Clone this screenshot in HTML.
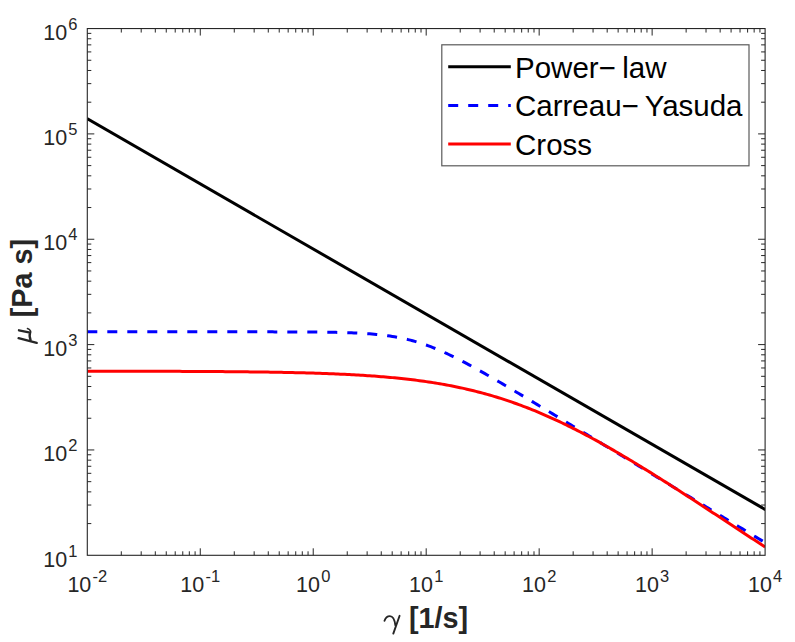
<!DOCTYPE html>
<html><head><meta charset="utf-8"><style>
html,body{margin:0;padding:0;background:#fff;}
svg{display:block;}
text{font-family:"Liberation Sans",sans-serif;fill:#262626;}
.tl{font-size:21.5px;}
.sup{font-size:16.5px;}
.lg{font-size:29.5px;fill:#000;}
.lab{font-size:28.8px;font-weight:bold;}
</style></head><body>
<svg width="795" height="642" viewBox="0 0 795 642">
<rect width="795" height="642" fill="#fff"/>
<defs><clipPath id="c"><rect x="87.3" y="28.55" width="677.80" height="526.75"/></clipPath></defs>
<g clip-path="url(#c)" fill="none" stroke-width="3" stroke-linejoin="round">
<path d="M87,118.6 L765.5,509.7" stroke="#000"/>
<path d="M87.30,331.83 L89.56,331.83 L91.82,331.83 L94.08,331.83 L96.34,331.83 L98.60,331.83 L100.86,331.83 L103.12,331.83 L105.37,331.83 L107.63,331.83 L109.89,331.83 L112.15,331.83 L114.41,331.83 L116.67,331.83 L118.93,331.83 L121.19,331.83 L123.45,331.83 L125.71,331.83 L127.97,331.83 L130.23,331.83 L132.49,331.83 L134.75,331.83 L137.01,331.83 L139.26,331.83 L141.52,331.83 L143.78,331.83 L146.04,331.83 L148.30,331.83 L150.56,331.83 L152.82,331.83 L155.08,331.83 L157.34,331.83 L159.60,331.83 L161.86,331.83 L164.12,331.83 L166.38,331.83 L168.64,331.83 L170.90,331.83 L173.15,331.83 L175.41,331.83 L177.67,331.83 L179.93,331.83 L182.19,331.83 L184.45,331.83 L186.71,331.83 L188.97,331.83 L191.23,331.83 L193.49,331.83 L195.75,331.83 L198.01,331.83 L200.27,331.83 L202.53,331.83 L204.79,331.83 L207.04,331.83 L209.30,331.83 L211.56,331.83 L213.82,331.83 L216.08,331.83 L218.34,331.83 L220.60,331.84 L222.86,331.84 L225.12,331.84 L227.38,331.84 L229.64,331.84 L231.90,331.84 L234.16,331.84 L236.42,331.84 L238.68,331.84 L240.93,331.84 L243.19,331.84 L245.45,331.84 L247.71,331.85 L249.97,331.85 L252.23,331.85 L254.49,331.85 L256.75,331.85 L259.01,331.85 L261.27,331.86 L263.53,331.86 L265.79,331.86 L268.05,331.86 L270.31,331.87 L272.57,331.87 L274.82,331.88 L277.08,331.88 L279.34,331.88 L281.60,331.89 L283.86,331.90 L286.12,331.90 L288.38,331.91 L290.64,331.92 L292.90,331.92 L295.16,331.93 L297.42,331.94 L299.68,331.95 L301.94,331.97 L304.20,331.98 L306.46,331.99 L308.71,332.01 L310.97,332.03 L313.23,332.04 L315.49,332.06 L317.75,332.09 L320.01,332.11 L322.27,332.14 L324.53,332.17 L326.79,332.20 L329.05,332.23 L331.31,332.27 L333.57,332.31 L335.83,332.36 L338.09,332.41 L340.35,332.46 L342.60,332.52 L344.86,332.59 L347.12,332.66 L349.38,332.74 L351.64,332.82 L353.90,332.91 L356.16,333.01 L358.42,333.12 L360.68,333.24 L362.94,333.37 L365.20,333.51 L367.46,333.66 L369.72,333.83 L371.98,334.01 L374.24,334.20 L376.49,334.41 L378.75,334.64 L381.01,334.88 L383.27,335.14 L385.53,335.43 L387.79,335.73 L390.05,336.06 L392.31,336.41 L394.57,336.78 L396.83,337.18 L399.09,337.61 L401.35,338.06 L403.61,338.55 L405.87,339.06 L408.13,339.60 L410.38,340.17 L412.64,340.77 L414.90,341.40 L417.16,342.07 L419.42,342.77 L421.68,343.49 L423.94,344.25 L426.20,345.04 L428.46,345.86 L430.72,346.71 L432.98,347.59 L435.24,348.50 L437.50,349.44 L439.76,350.40 L442.02,351.39 L444.27,352.40 L446.53,353.44 L448.79,354.50 L451.05,355.58 L453.31,356.68 L455.57,357.80 L457.83,358.94 L460.09,360.09 L462.35,361.26 L464.61,362.45 L466.87,363.65 L469.13,364.87 L471.39,366.09 L473.65,367.33 L475.91,368.58 L478.16,369.84 L480.42,371.10 L482.68,372.38 L484.94,373.66 L487.20,374.95 L489.46,376.25 L491.72,377.55 L493.98,378.86 L496.24,380.18 L498.50,381.50 L500.76,382.82 L503.02,384.15 L505.28,385.48 L507.54,386.81 L509.80,388.15 L512.05,389.49 L514.31,390.83 L516.57,392.17 L518.83,393.52 L521.09,394.87 L523.35,396.22 L525.61,397.57 L527.87,398.93 L530.13,400.28 L532.39,401.64 L534.65,403.00 L536.91,404.36 L539.17,405.72 L541.43,407.08 L543.69,408.44 L545.94,409.80 L548.20,411.16 L550.46,412.53 L552.72,413.89 L554.98,415.26 L557.24,416.62 L559.50,417.99 L561.76,419.35 L564.02,420.72 L566.28,422.09 L568.54,423.45 L570.80,424.82 L573.06,426.19 L575.32,427.55 L577.58,428.92 L579.83,430.29 L582.09,431.66 L584.35,433.03 L586.61,434.39 L588.87,435.76 L591.13,437.13 L593.39,438.50 L595.65,439.87 L597.91,441.24 L600.17,442.61 L602.43,443.98 L604.69,445.35 L606.95,446.72 L609.21,448.08 L611.47,449.45 L613.72,450.82 L615.98,452.19 L618.24,453.56 L620.50,454.93 L622.76,456.30 L625.02,457.67 L627.28,459.04 L629.54,460.41 L631.80,461.78 L634.06,463.15 L636.32,464.52 L638.58,465.89 L640.84,467.26 L643.10,468.63 L645.36,470.00 L647.61,471.37 L649.87,472.74 L652.13,474.11 L654.39,475.48 L656.65,476.85 L658.91,478.22 L661.17,479.59 L663.43,480.96 L665.69,482.33 L667.95,483.70 L670.21,485.07 L672.47,486.44 L674.73,487.81 L676.99,489.18 L679.25,490.55 L681.50,491.92 L683.76,493.29 L686.02,494.66 L688.28,496.03 L690.54,497.40 L692.80,498.77 L695.06,500.14 L697.32,501.51 L699.58,502.88 L701.84,504.25 L704.10,505.62 L706.36,506.99 L708.62,508.36 L710.88,509.73 L713.14,511.10 L715.39,512.47 L717.65,513.84 L719.91,515.21 L722.17,516.58 L724.43,517.95 L726.69,519.32 L728.95,520.69 L731.21,522.06 L733.47,523.42 L735.73,524.79 L737.99,526.16 L740.25,527.53 L742.51,528.90 L744.77,530.27 L747.03,531.64 L749.28,533.01 L751.54,534.38 L753.80,535.75 L756.06,537.12 L758.32,538.49 L760.58,539.86 L762.84,541.23 L765.10,542.60" stroke="#0000ff" stroke-dasharray="10,10"/>
<path d="M87.30,371.17 L89.56,371.17 L91.82,371.17 L94.08,371.18 L96.34,371.18 L98.60,371.18 L100.86,371.18 L103.12,371.19 L105.37,371.19 L107.63,371.19 L109.89,371.20 L112.15,371.20 L114.41,371.20 L116.67,371.21 L118.93,371.21 L121.19,371.21 L123.45,371.22 L125.71,371.22 L127.97,371.22 L130.23,371.23 L132.49,371.23 L134.75,371.24 L137.01,371.24 L139.26,371.25 L141.52,371.25 L143.78,371.26 L146.04,371.26 L148.30,371.27 L150.56,371.27 L152.82,371.28 L155.08,371.29 L157.34,371.29 L159.60,371.30 L161.86,371.31 L164.12,371.31 L166.38,371.32 L168.64,371.33 L170.90,371.33 L173.15,371.34 L175.41,371.35 L177.67,371.36 L179.93,371.37 L182.19,371.38 L184.45,371.39 L186.71,371.40 L188.97,371.41 L191.23,371.42 L193.49,371.43 L195.75,371.44 L198.01,371.45 L200.27,371.47 L202.53,371.48 L204.79,371.49 L207.04,371.50 L209.30,371.52 L211.56,371.53 L213.82,371.55 L216.08,371.56 L218.34,371.58 L220.60,371.60 L222.86,371.61 L225.12,371.63 L227.38,371.65 L229.64,371.67 L231.90,371.69 L234.16,371.71 L236.42,371.73 L238.68,371.75 L240.93,371.78 L243.19,371.80 L245.45,371.82 L247.71,371.85 L249.97,371.88 L252.23,371.90 L254.49,371.93 L256.75,371.96 L259.01,371.99 L261.27,372.02 L263.53,372.05 L265.79,372.09 L268.05,372.12 L270.31,372.16 L272.57,372.19 L274.82,372.23 L277.08,372.27 L279.34,372.31 L281.60,372.35 L283.86,372.40 L286.12,372.44 L288.38,372.49 L290.64,372.54 L292.90,372.59 L295.16,372.64 L297.42,372.69 L299.68,372.75 L301.94,372.81 L304.20,372.87 L306.46,372.93 L308.71,372.99 L310.97,373.06 L313.23,373.12 L315.49,373.19 L317.75,373.27 L320.01,373.34 L322.27,373.42 L324.53,373.50 L326.79,373.58 L329.05,373.67 L331.31,373.76 L333.57,373.85 L335.83,373.94 L338.09,374.04 L340.35,374.14 L342.60,374.24 L344.86,374.35 L347.12,374.46 L349.38,374.58 L351.64,374.70 L353.90,374.82 L356.16,374.95 L358.42,375.08 L360.68,375.21 L362.94,375.35 L365.20,375.49 L367.46,375.64 L369.72,375.80 L371.98,375.95 L374.24,376.12 L376.49,376.28 L378.75,376.46 L381.01,376.64 L383.27,376.82 L385.53,377.01 L387.79,377.21 L390.05,377.41 L392.31,377.62 L394.57,377.84 L396.83,378.06 L399.09,378.29 L401.35,378.52 L403.61,378.76 L405.87,379.01 L408.13,379.27 L410.38,379.54 L412.64,379.81 L414.90,380.09 L417.16,380.38 L419.42,380.67 L421.68,380.98 L423.94,381.29 L426.20,381.62 L428.46,381.95 L430.72,382.29 L432.98,382.64 L435.24,383.00 L437.50,383.37 L439.76,383.75 L442.02,384.14 L444.27,384.55 L446.53,384.96 L448.79,385.38 L451.05,385.81 L453.31,386.26 L455.57,386.71 L457.83,387.18 L460.09,387.66 L462.35,388.15 L464.61,388.65 L466.87,389.17 L469.13,389.69 L471.39,390.23 L473.65,390.78 L475.91,391.35 L478.16,391.93 L480.42,392.51 L482.68,393.12 L484.94,393.73 L487.20,394.36 L489.46,395.01 L491.72,395.66 L493.98,396.33 L496.24,397.01 L498.50,397.71 L500.76,398.42 L503.02,399.15 L505.28,399.88 L507.54,400.64 L509.80,401.40 L512.05,402.18 L514.31,402.97 L516.57,403.78 L518.83,404.60 L521.09,405.44 L523.35,406.29 L525.61,407.15 L527.87,408.02 L530.13,408.91 L532.39,409.82 L534.65,410.73 L536.91,411.67 L539.17,412.61 L541.43,413.57 L543.69,414.54 L545.94,415.52 L548.20,416.52 L550.46,417.53 L552.72,418.55 L554.98,419.58 L557.24,420.63 L559.50,421.69 L561.76,422.76 L564.02,423.85 L566.28,424.94 L568.54,426.05 L570.80,427.17 L573.06,428.30 L575.32,429.44 L577.58,430.59 L579.83,431.76 L582.09,432.93 L584.35,434.12 L586.61,435.31 L588.87,436.52 L591.13,437.73 L593.39,438.95 L595.65,440.19 L597.91,441.43 L600.17,442.68 L602.43,443.95 L604.69,445.22 L606.95,446.49 L609.21,447.78 L611.47,449.08 L613.72,450.38 L615.98,451.69 L618.24,453.01 L620.50,454.33 L622.76,455.67 L625.02,457.01 L627.28,458.35 L629.54,459.71 L631.80,461.07 L634.06,462.43 L636.32,463.81 L638.58,465.18 L640.84,466.57 L643.10,467.96 L645.36,469.35 L647.61,470.75 L649.87,472.15 L652.13,473.56 L654.39,474.98 L656.65,476.40 L658.91,477.82 L661.17,479.25 L663.43,480.68 L665.69,482.11 L667.95,483.55 L670.21,484.99 L672.47,486.44 L674.73,487.89 L676.99,489.34 L679.25,490.80 L681.50,492.25 L683.76,493.71 L686.02,495.18 L688.28,496.64 L690.54,498.11 L692.80,499.58 L695.06,501.05 L697.32,502.53 L699.58,504.00 L701.84,505.48 L704.10,506.96 L706.36,508.44 L708.62,509.92 L710.88,511.40 L713.14,512.89 L715.39,514.37 L717.65,515.86 L719.91,517.34 L722.17,518.83 L724.43,520.31 L726.69,521.80 L728.95,523.29 L731.21,524.78 L733.47,526.26 L735.73,527.75 L737.99,529.24 L740.25,530.72 L742.51,532.21 L744.77,533.69 L747.03,535.18 L749.28,536.66 L751.54,538.14 L753.80,539.62 L756.06,541.10 L758.32,542.58 L760.58,544.06 L762.84,545.53 L765.10,547.00" stroke="#ff0000"/>
</g>
<path d="M121.31,555.30v-4M121.31,28.55v4M141.20,555.30v-4M141.20,28.55v4M155.31,555.30v-4M155.31,28.55v4M166.26,555.30v-4M166.26,28.55v4M175.21,555.30v-4M175.21,28.55v4M182.77,555.30v-4M182.77,28.55v4M189.32,555.30v-4M189.32,28.55v4M195.10,555.30v-4M195.10,28.55v4M200.27,555.30v-7M200.27,28.55v7M234.27,555.30v-4M234.27,28.55v4M254.17,555.30v-4M254.17,28.55v4M268.28,555.30v-4M268.28,28.55v4M279.23,555.30v-4M279.23,28.55v4M288.17,555.30v-4M288.17,28.55v4M295.73,555.30v-4M295.73,28.55v4M302.29,555.30v-4M302.29,28.55v4M308.06,555.30v-4M308.06,28.55v4M313.23,555.30v-7M313.23,28.55v7M347.24,555.30v-4M347.24,28.55v4M367.13,555.30v-4M367.13,28.55v4M381.25,555.30v-4M381.25,28.55v4M392.19,555.30v-4M392.19,28.55v4M401.14,555.30v-4M401.14,28.55v4M408.70,555.30v-4M408.70,28.55v4M415.25,555.30v-4M415.25,28.55v4M421.03,555.30v-4M421.03,28.55v4M426.20,555.30v-7M426.20,28.55v7M460.21,555.30v-4M460.21,28.55v4M480.10,555.30v-4M480.10,28.55v4M494.21,555.30v-4M494.21,28.55v4M505.16,555.30v-4M505.16,28.55v4M514.11,555.30v-4M514.11,28.55v4M521.67,555.30v-4M521.67,28.55v4M528.22,555.30v-4M528.22,28.55v4M534.00,555.30v-4M534.00,28.55v4M539.17,555.30v-7M539.17,28.55v7M573.17,555.30v-4M573.17,28.55v4M593.07,555.30v-4M593.07,28.55v4M607.18,555.30v-4M607.18,28.55v4M618.13,555.30v-4M618.13,28.55v4M627.07,555.30v-4M627.07,28.55v4M634.63,555.30v-4M634.63,28.55v4M641.19,555.30v-4M641.19,28.55v4M646.96,555.30v-4M646.96,28.55v4M652.13,555.30v-7M652.13,28.55v7M686.14,555.30v-4M686.14,28.55v4M706.03,555.30v-4M706.03,28.55v4M720.15,555.30v-4M720.15,28.55v4M731.09,555.30v-4M731.09,28.55v4M740.04,555.30v-4M740.04,28.55v4M747.60,555.30v-4M747.60,28.55v4M754.15,555.30v-4M754.15,28.55v4M759.93,555.30v-4M759.93,28.55v4M87.30,523.59h4M765.10,523.59h-4M87.30,505.04h4M765.10,505.04h-4M87.30,491.87h4M765.10,491.87h-4M87.30,481.66h4M765.10,481.66h-4M87.30,473.32h4M765.10,473.32h-4M87.30,466.27h4M765.10,466.27h-4M87.30,460.16h4M765.10,460.16h-4M87.30,454.77h4M765.10,454.77h-4M87.30,449.95h7M765.10,449.95h-7M87.30,418.24h4M765.10,418.24h-4M87.30,399.69h4M765.10,399.69h-4M87.30,386.52h4M765.10,386.52h-4M87.30,376.31h4M765.10,376.31h-4M87.30,367.97h4M765.10,367.97h-4M87.30,360.92h4M765.10,360.92h-4M87.30,354.81h4M765.10,354.81h-4M87.30,349.42h4M765.10,349.42h-4M87.30,344.60h7M765.10,344.60h-7M87.30,312.89h4M765.10,312.89h-4M87.30,294.34h4M765.10,294.34h-4M87.30,281.17h4M765.10,281.17h-4M87.30,270.96h4M765.10,270.96h-4M87.30,262.62h4M765.10,262.62h-4M87.30,255.57h4M765.10,255.57h-4M87.30,249.46h4M765.10,249.46h-4M87.30,244.07h4M765.10,244.07h-4M87.30,239.25h7M765.10,239.25h-7M87.30,207.54h4M765.10,207.54h-4M87.30,188.99h4M765.10,188.99h-4M87.30,175.82h4M765.10,175.82h-4M87.30,165.61h4M765.10,165.61h-4M87.30,157.27h4M765.10,157.27h-4M87.30,150.22h4M765.10,150.22h-4M87.30,144.11h4M765.10,144.11h-4M87.30,138.72h4M765.10,138.72h-4M87.30,133.90h7M765.10,133.90h-7M87.30,102.19h4M765.10,102.19h-4M87.30,83.64h4M765.10,83.64h-4M87.30,70.47h4M765.10,70.47h-4M87.30,60.26h4M765.10,60.26h-4M87.30,51.92h4M765.10,51.92h-4M87.30,44.87h4M765.10,44.87h-4M87.30,38.76h4M765.10,38.76h-4M87.30,33.37h4M765.10,33.37h-4" stroke="#262626" stroke-width="1" fill="none"/>
<rect x="87.3" y="28.55" width="677.80" height="526.75" fill="none" stroke="#262626" stroke-width="1.1"/>
<text x="87.30" y="591.5" text-anchor="middle" class="tl">10<tspan class="sup" dx="1.2" dy="-10">-2</tspan></text><text x="200.27" y="591.5" text-anchor="middle" class="tl">10<tspan class="sup" dx="1.2" dy="-10">-1</tspan></text><text x="313.23" y="591.5" text-anchor="middle" class="tl">10<tspan class="sup" dx="1.2" dy="-10">0</tspan></text><text x="426.20" y="591.5" text-anchor="middle" class="tl">10<tspan class="sup" dx="1.2" dy="-10">1</tspan></text><text x="539.17" y="591.5" text-anchor="middle" class="tl">10<tspan class="sup" dx="1.2" dy="-10">2</tspan></text><text x="652.13" y="591.5" text-anchor="middle" class="tl">10<tspan class="sup" dx="1.2" dy="-10">3</tspan></text><text x="765.10" y="591.5" text-anchor="middle" class="tl">10<tspan class="sup" dx="1.2" dy="-10">4</tspan></text>
<text x="77.5" y="566.50" text-anchor="end" class="tl">10<tspan class="sup" dx="1.2" dy="-10">1</tspan></text><text x="77.5" y="461.15" text-anchor="end" class="tl">10<tspan class="sup" dx="1.2" dy="-10">2</tspan></text><text x="77.5" y="355.80" text-anchor="end" class="tl">10<tspan class="sup" dx="1.2" dy="-10">3</tspan></text><text x="77.5" y="250.45" text-anchor="end" class="tl">10<tspan class="sup" dx="1.2" dy="-10">4</tspan></text><text x="77.5" y="145.10" text-anchor="end" class="tl">10<tspan class="sup" dx="1.2" dy="-10">5</tspan></text><text x="77.5" y="39.75" text-anchor="end" class="tl">10<tspan class="sup" dx="1.2" dy="-10">6</tspan></text>
<rect x="441.8" y="44.8" width="307.2" height="121" fill="#fff" stroke="#5a5a5a" stroke-width="1.2"/>
<path d="M448.2,66.8H510.8" stroke="#000" stroke-width="3"/>
<path d="M448.2,105.5H510.8" stroke="#0000ff" stroke-width="3" stroke-dasharray="10,10"/>
<path d="M448.2,144H510.8" stroke="#ff0000" stroke-width="3"/>
<text x="515" y="77.7" class="lg">Power&#8722;<tspan dx="-1.8"> law</tspan></text>
<text x="515" y="116.1" class="lg">Carreau&#8722;<tspan dx="-1.8"> Yasuda</tspan></text>
<text x="515" y="154.7" class="lg">Cross</text>
<text x="409" y="627.5" class="lab">[1/s]</text>
<text transform="translate(32,317.3) rotate(-90)" class="lab">[Pa s]</text>
<path d="M384.5,620.8 C385.6,617.5 387.6,616.1 389.9,616.1 C393.2,616.1 394.6,619.4 395.4,625.3 M399.6,615.8 L393.3,633.6" stroke="#262626" stroke-width="1.9" fill="none" stroke-linecap="round"/>
<path d="M18.6,338.2 L36.7,342.9 M19.0,330.3 L30.1,332.7 M30.1,332.7 C29.2,335 29.6,337.5 30.6,340.2" stroke="#262626" stroke-width="2.35" fill="none" stroke-linecap="round"/>
<path d="M30.1,332.7 C31.1,332.6 31.0,329.7 27.5,328.5" stroke="#262626" stroke-width="1.6" fill="none" stroke-linecap="round"/>
</svg>
</body></html>
